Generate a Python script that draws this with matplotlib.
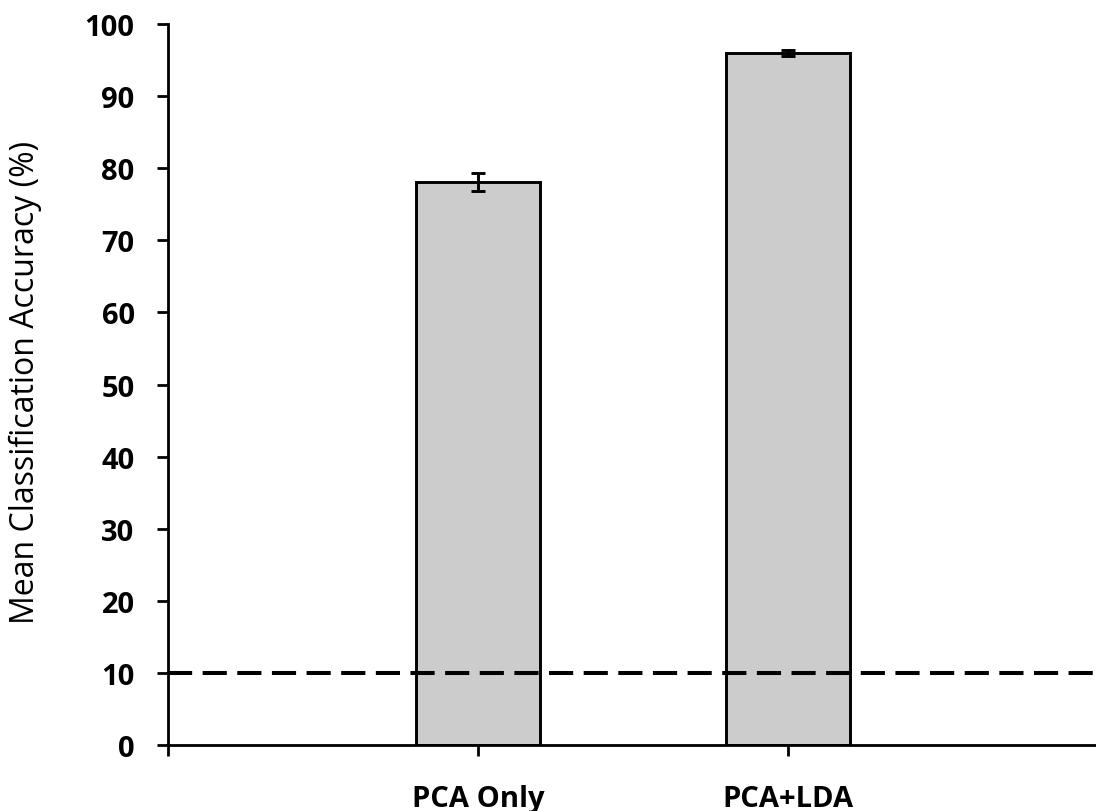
import matplotlib.pyplot as plt

categories = ['PCA Only', 'PCA+LDA']
accuracy = [78.1, 96.0]
errors = [1.25, 0.45]
chance_level = 10

plt.rcParams['font.family'] = ['Open Sans', 'DejaVu Sans']

fig = plt.figure(figsize=(10.96, 8.12), dpi=100)
ax = fig.add_axes([0.1533, 0.0813, 0.849, 0.8877])

x = [1, 2]
ax.bar(x, accuracy, width=0.4, color='#cccccc', edgecolor='black', linewidth=2.1,
       yerr=errors, error_kw=dict(ecolor='black', elinewidth=2.1, capsize=5, capthick=2.1))
ax.axhline(chance_level, color='black', linestyle=(0, (6, 2.6)), linewidth=2.9)

ax.set_xlim(0, 3)
ax.set_ylim(0, 100)
ax.set_yticks(range(0, 101, 10))
ax.set_xticks([0] + x)
ax.set_xticklabels([''] + categories)

for s in ['top', 'right']:
    ax.spines[s].set_visible(False)
for s in ['left', 'bottom']:
    ax.spines[s].set_linewidth(2.0)

ax.tick_params(axis='y', direction='out', length=8, width=2.0, labelsize=21, pad=16)
ax.tick_params(axis='x', direction='out', length=8, width=2.0, labelsize=21, pad=20)
for lbl in ax.get_xticklabels() + ax.get_yticklabels():
    lbl.set_fontweight('bold')

ax.set_ylabel('Mean Classification Accuracy (%)', fontsize=23)
ax.yaxis.set_label_coords(-0.135, 0.505)

fig.savefig('out.png', dpi=100)
